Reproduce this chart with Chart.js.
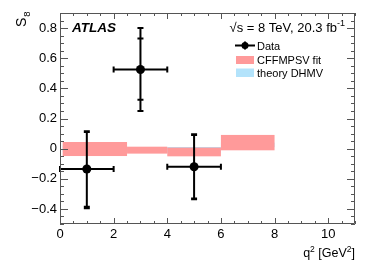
<!DOCTYPE html>
<html>
<head>
<meta charset="utf-8">
<script src="https://cdn.jsdelivr.net/npm/chart.js@4"></script>
<style>
  body { margin: 0; background: #fff; }
  #wrap { width: 374px; height: 268px; }
</style>
</head>
<body>
<div id="wrap"><canvas id="chart" width="374" height="268"></canvas></div>
<script>
// measured S8 points
const qCenter = [1, 3, 5];
const qLow = [0, 2, 4];
const qHigh = [2, 4, 6];
const s8 = [-0.135, 0.525, -0.12];
const statUp = [0.245, 0.205, 0.21];
const statDown = [0.25, 0.2, 0.21];
const totUp = [0.25, 0.275, 0.215];
const totDown = [0.26, 0.275, 0.215];

// prediction bands
const bandLow = [0.1, 2.5, 4, 6];
const bandHigh = [2.5, 4, 6, 8];
const cffTop = [0.044, 0.013, 0.007, 0.091];
const cffBottom = [-0.049, -0.033, -0.051, -0.011];
const dhmvTop = [0.02, 0.005, 0.011, 0.04];
const dhmvBottom = [-0.02, -0.02, -0.03, 0.01];

const xTicks = [0, 2, 4, 6, 8, 10];
const yTicks = [-0.4, -0.2, 0, 0.2, 0.4, 0.6, 0.8];

const FONT = '"Liberation Sans", Arial, sans-serif';
const RED = '#ff9a9a';
const BLUE = '#b3e3fb';

const bandsPlugin = {
  id: 'bands',
  beforeDatasetsDraw(chart) {
    const { ctx, scales: { x, y } } = chart;
    ctx.save();
    const drawSet = (tops, bottoms, color) => {
      ctx.fillStyle = color;
      for (let i = 0; i < bandLow.length; i++) {
        const x0 = x.getPixelForValue(bandLow[i]);
        const x1 = x.getPixelForValue(bandHigh[i]);
        const y0 = y.getPixelForValue(tops[i]);
        const y1 = y.getPixelForValue(bottoms[i]);
        ctx.fillRect(x0, y0, x1 - x0, y1 - y0);
      }
    };
    drawSet(dhmvTop, dhmvBottom, BLUE);
    drawSet(cffTop, cffBottom, RED);
    ctx.restore();
  },
};

const errorPlugin = {
  id: 'errors',
  afterDatasetsDraw(chart) {
    const { ctx, scales: { x, y } } = chart;
    ctx.save();
    ctx.strokeStyle = '#000';
    ctx.lineWidth = 2;
    for (let i = 0; i < qCenter.length; i++) {
      const cx = x.getPixelForValue(qCenter[i]);
      const cy = y.getPixelForValue(s8[i]);
      const xl = x.getPixelForValue(qLow[i]);
      const xh = x.getPixelForValue(qHigh[i]);
      const yTop = y.getPixelForValue(s8[i] + totUp[i]);
      const yBot = y.getPixelForValue(s8[i] - totDown[i]);
      const ySt = y.getPixelForValue(s8[i] + statUp[i]);
      const ySb = y.getPixelForValue(s8[i] - statDown[i]);
      ctx.beginPath();
      ctx.moveTo(xl, cy); ctx.lineTo(xh, cy);
      ctx.moveTo(cx, yTop); ctx.lineTo(cx, yBot);
      // caps
      ctx.moveTo(xl, cy - 3); ctx.lineTo(xl, cy + 3);
      ctx.moveTo(xh, cy - 3); ctx.lineTo(xh, cy + 3);
      for (const yy of [yTop, yBot, ySt, ySb]) {
        ctx.moveTo(cx - 3, yy); ctx.lineTo(cx + 3, yy);
      }
      ctx.stroke();
    }
    ctx.restore();
  },
};

const framePlugin = {
  id: 'frame',
  afterDraw(chart) {
    const { ctx, chartArea: a, scales: { x, y } } = chart;
    ctx.save();
    ctx.strokeStyle = '#555';
    ctx.lineWidth = 1;
    ctx.beginPath();
    ctx.rect(a.left + 0.5, a.top + 0.5, a.right - a.left - 1, a.bottom - a.top - 1);
    // x ticks, bottom and top
    for (let v = 0; v <= 11; v += 0.5) {
      const px = Math.round(x.getPixelForValue(v)) + 0.5;
      const len = v % 2 === 0 ? 6 : 3;
      ctx.moveTo(px, a.bottom); ctx.lineTo(px, a.bottom - len);
      ctx.moveTo(px, a.top); ctx.lineTo(px, a.top + len);
    }
    // y ticks, left and right
    for (let k = -10; k <= 18; k++) {
      const v = k * 0.05;
      const py = Math.round(y.getPixelForValue(v)) + 0.5;
      const len = k % 4 === 0 ? 8 : 4;
      ctx.moveTo(a.left, py); ctx.lineTo(a.left + len, py);
      ctx.moveTo(a.right, py); ctx.lineTo(a.right - len, py);
    }
    ctx.stroke();

    ctx.fillStyle = '#000';
    ctx.textBaseline = 'alphabetic';

    // ATLAS label
    ctx.font = 'italic bold 13.5px ' + FONT;
    ctx.textAlign = 'left';
    ctx.fillText('ATLAS', 72, 32);

    // energy / luminosity
    const main = '\u221As = 8 TeV, 20.3 fb';
    ctx.font = '9px ' + FONT;
    const supW = ctx.measureText('-1').width;
    ctx.font = '13px ' + FONT;
    const mainW = ctx.measureText(main).width;
    const ex = 345 - supW - mainW;
    ctx.fillText(main, ex, 32);
    ctx.font = '9px ' + FONT;
    ctx.fillText('-1', ex + mainW, 26);

    // legend
    ctx.strokeStyle = '#000';
    ctx.lineWidth = 2;
    ctx.beginPath();
    ctx.moveTo(235, 45.5); ctx.lineTo(255, 45.5);
    ctx.moveTo(245, 41.5); ctx.lineTo(245, 49.5);
    ctx.stroke();
    ctx.beginPath();
    ctx.arc(245, 45.5, 3.5, 0, Math.PI * 2);
    ctx.fill();
    ctx.fillStyle = RED;
    ctx.fillRect(236, 56, 18, 8);
    ctx.fillStyle = BLUE;
    ctx.fillRect(236, 68.5, 18, 8.5);
    ctx.fillStyle = '#000';
    ctx.font = '11px ' + FONT;
    ctx.fillText('Data', 257, 49.5);
    ctx.fillText('CFFMPSV fit', 257, 64);
    ctx.fillText('theory DHMV', 257, 77);

    // x title
    const parts = [['q', 12.5, 0], ['2', 8.5, -5], [' [GeV', 12.5, 0], ['2', 8.5, -5], [']', 12.5, 0]];
    let total = 0;
    for (const p of parts) { ctx.font = p[1] + 'px ' + FONT; total += ctx.measureText(p[0]).width; }
    let px = 355 - total;
    for (const p of parts) {
      ctx.font = p[1] + 'px ' + FONT;
      ctx.fillText(p[0], px, 257 + p[2]);
      px += ctx.measureText(p[0]).width;
    }

    // y title
    ctx.translate(26, 27);
    ctx.rotate(-Math.PI / 2);
    ctx.font = '14px ' + FONT;
    ctx.fillText('S', 0, 0);
    const sw = ctx.measureText('S').width;
    ctx.font = '9.5px ' + FONT;
    ctx.fillText('8', sw + 1, 4);
    ctx.restore();
  },
};

const minus = (v) => String(Math.round(v * 10) / 10).replace('-', '\u2212');

new Chart(document.getElementById('chart'), {
  type: 'scatter',
  data: {
    datasets: [{
      data: qCenter.map((q, i) => ({ x: q, y: s8[i] })),
      pointRadius: 4.5,
      pointHoverRadius: 4.5,
      backgroundColor: '#000',
      borderColor: '#000',
      borderWidth: 0,
    }],
  },
  options: {
    responsive: false,
    animation: false,
    layout: { padding: { top: 13, right: 19, left: 0, bottom: 0 } },
    plugins: { legend: { display: false }, tooltip: { enabled: false } },
    scales: {
      x: {
        type: 'linear',
        min: 0,
        max: 11,
        grid: { display: false, drawTicks: false },
        border: { display: false },
        afterBuildTicks: (s) => { s.ticks = xTicks.map((v) => ({ value: v })); },
        afterFit: (s) => { s.height = 44; },
        ticks: {
          color: '#000',
          padding: 3,
          maxRotation: 0,
          font: { family: FONT, size: 13 },
          callback: (v) => minus(v),
        },
      },
      y: {
        min: -0.5,
        max: 0.9,
        grid: { display: false, drawTicks: false },
        border: { display: false },
        afterBuildTicks: (s) => { s.ticks = yTicks.map((v) => ({ value: v })); },
        afterFit: (s) => { s.width = 60; },
        ticks: {
          color: '#000',
          padding: 3,
          font: { family: FONT, size: 13 },
          callback: (v) => minus(v),
        },
      },
    },
  },
  plugins: [bandsPlugin, errorPlugin, framePlugin],
});
</script>
</body>
</html>
